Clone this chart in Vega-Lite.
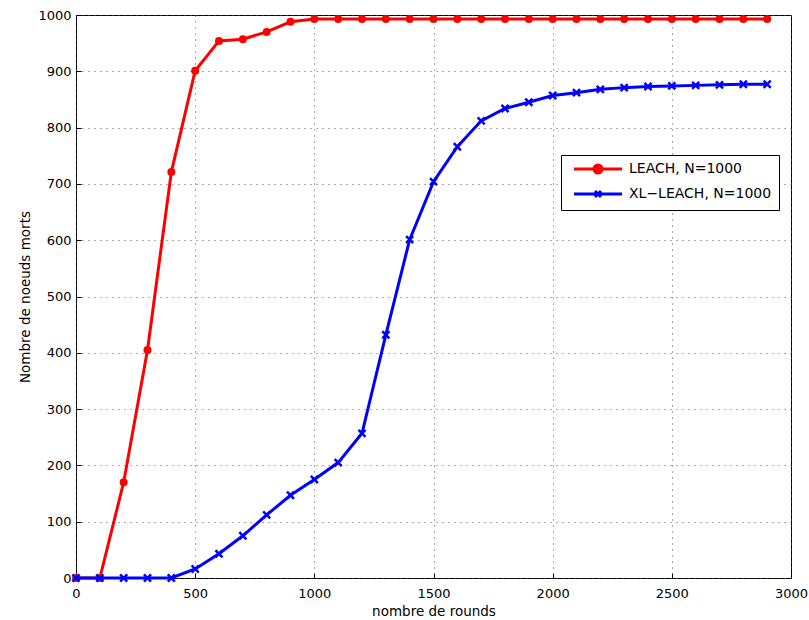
{
  "$schema": "https://vega.github.io/schema/vega-lite/v6.json",
  "width": 715,
  "height": 563,
  "autosize": {"type": "none"},
  "padding": {"left": 76, "top": 15, "right": 18, "bottom": 42},
  "background": "white",
  "config": {
    "font": "DejaVu Sans",
    "view": {"stroke": "black", "strokeWidth": 1},
    "axis": {
      "domain": false,
      "grid": true,
      "gridColor": "#555555",
      "gridDash": [1, 5],
      "gridWidth": 1,
      "ticks": true,
      "tickSize": -5,
      "tickColor": "black",
      "tickWidth": 1,
      "labelFont": "DejaVu Sans",
      "labelFontSize": 13,
      "labelColor": "black",
      "titleFont": "DejaVu Sans",
      "titleFontSize": 13.5,
      "titleFontWeight": "normal",
      "titleColor": "black"
    },
    "legend": {
      "labelFont": "DejaVu Sans",
      "labelFontSize": 14,
      "labelColor": "black"
    }
  },
  "data": {
    "values": [
      {"rounds": 0, "dead": 0, "series": "LEACH, N=1000"},
      {"rounds": 100, "dead": 0, "series": "LEACH, N=1000"},
      {"rounds": 200, "dead": 170, "series": "LEACH, N=1000"},
      {"rounds": 300, "dead": 405, "series": "LEACH, N=1000"},
      {"rounds": 400, "dead": 721, "series": "LEACH, N=1000"},
      {"rounds": 500, "dead": 901, "series": "LEACH, N=1000"},
      {"rounds": 600, "dead": 954, "series": "LEACH, N=1000"},
      {"rounds": 700, "dead": 957, "series": "LEACH, N=1000"},
      {"rounds": 800, "dead": 970, "series": "LEACH, N=1000"},
      {"rounds": 900, "dead": 988, "series": "LEACH, N=1000"},
      {"rounds": 1000, "dead": 993, "series": "LEACH, N=1000"},
      {"rounds": 1100, "dead": 993, "series": "LEACH, N=1000"},
      {"rounds": 1200, "dead": 993, "series": "LEACH, N=1000"},
      {"rounds": 1300, "dead": 993, "series": "LEACH, N=1000"},
      {"rounds": 1400, "dead": 993, "series": "LEACH, N=1000"},
      {"rounds": 1500, "dead": 993, "series": "LEACH, N=1000"},
      {"rounds": 1600, "dead": 993, "series": "LEACH, N=1000"},
      {"rounds": 1700, "dead": 993, "series": "LEACH, N=1000"},
      {"rounds": 1800, "dead": 993, "series": "LEACH, N=1000"},
      {"rounds": 1900, "dead": 993, "series": "LEACH, N=1000"},
      {"rounds": 2000, "dead": 993, "series": "LEACH, N=1000"},
      {"rounds": 2100, "dead": 993, "series": "LEACH, N=1000"},
      {"rounds": 2200, "dead": 993, "series": "LEACH, N=1000"},
      {"rounds": 2300, "dead": 993, "series": "LEACH, N=1000"},
      {"rounds": 2400, "dead": 993, "series": "LEACH, N=1000"},
      {"rounds": 2500, "dead": 993, "series": "LEACH, N=1000"},
      {"rounds": 2600, "dead": 993, "series": "LEACH, N=1000"},
      {"rounds": 2700, "dead": 993, "series": "LEACH, N=1000"},
      {"rounds": 2800, "dead": 993, "series": "LEACH, N=1000"},
      {"rounds": 2900, "dead": 993, "series": "LEACH, N=1000"},
      {"rounds": 0, "dead": 0, "series": "XL−LEACH, N=1000"},
      {"rounds": 100, "dead": 0, "series": "XL−LEACH, N=1000"},
      {"rounds": 200, "dead": 0, "series": "XL−LEACH, N=1000"},
      {"rounds": 300, "dead": 0, "series": "XL−LEACH, N=1000"},
      {"rounds": 400, "dead": 0, "series": "XL−LEACH, N=1000"},
      {"rounds": 500, "dead": 16, "series": "XL−LEACH, N=1000"},
      {"rounds": 600, "dead": 43, "series": "XL−LEACH, N=1000"},
      {"rounds": 700, "dead": 75, "series": "XL−LEACH, N=1000"},
      {"rounds": 800, "dead": 112, "series": "XL−LEACH, N=1000"},
      {"rounds": 900, "dead": 147, "series": "XL−LEACH, N=1000"},
      {"rounds": 1000, "dead": 175, "series": "XL−LEACH, N=1000"},
      {"rounds": 1100, "dead": 205, "series": "XL−LEACH, N=1000"},
      {"rounds": 1200, "dead": 257, "series": "XL−LEACH, N=1000"},
      {"rounds": 1300, "dead": 432, "series": "XL−LEACH, N=1000"},
      {"rounds": 1400, "dead": 601, "series": "XL−LEACH, N=1000"},
      {"rounds": 1500, "dead": 704, "series": "XL−LEACH, N=1000"},
      {"rounds": 1600, "dead": 766, "series": "XL−LEACH, N=1000"},
      {"rounds": 1700, "dead": 812, "series": "XL−LEACH, N=1000"},
      {"rounds": 1800, "dead": 834, "series": "XL−LEACH, N=1000"},
      {"rounds": 1900, "dead": 845, "series": "XL−LEACH, N=1000"},
      {"rounds": 2000, "dead": 857, "series": "XL−LEACH, N=1000"},
      {"rounds": 2100, "dead": 862, "series": "XL−LEACH, N=1000"},
      {"rounds": 2200, "dead": 868, "series": "XL−LEACH, N=1000"},
      {"rounds": 2300, "dead": 871, "series": "XL−LEACH, N=1000"},
      {"rounds": 2400, "dead": 873, "series": "XL−LEACH, N=1000"},
      {"rounds": 2500, "dead": 874, "series": "XL−LEACH, N=1000"},
      {"rounds": 2600, "dead": 875, "series": "XL−LEACH, N=1000"},
      {"rounds": 2700, "dead": 876, "series": "XL−LEACH, N=1000"},
      {"rounds": 2800, "dead": 877, "series": "XL−LEACH, N=1000"},
      {"rounds": 2900, "dead": 877, "series": "XL−LEACH, N=1000"}
    ]
  },
  "encoding": {
    "x": {
      "field": "rounds",
      "type": "quantitative",
      "scale": {"domain": [0, 3000], "nice": false, "zero": false},
      "axis": {"title": "nombre de rounds", "format": "d", "values": [0, 500, 1000, 1500, 2000, 2500, 3000], "labelFlush": false, "labelPadding": 14, "titlePadding": 4}
    },
    "y": {
      "field": "dead",
      "type": "quantitative",
      "scale": {"domain": [0, 1000], "nice": false},
      "axis": {"title": "Nombre de noeuds morts", "format": "d", "values": [0, 100, 200, 300, 400, 500, 600, 700, 800, 900, 1000], "labelPadding": 10, "titlePadding": 5}
    }
  },
  "layer": [
    {
      "transform": [{"filter": "datum.series == 'LEACH, N=1000'"}],
      "mark": {"type": "line", "strokeWidth": 3},
      "encoding": {
        "color": {
          "field": "series",
          "type": "nominal",
          "scale": {"domain": ["LEACH, N=1000", "XL−LEACH, N=1000"], "range": ["#ff0000", "#0000ff"]},
          "legend": {
            "title": null,
            "orient": "none",
            "legendX": 485,
            "legendY": 140,
            "fillColor": "white",
            "strokeColor": "black",
            "padding": 7,
            "rowPadding": 6,
            "symbolSize": 100,
            "symbolStrokeWidth": 3,
            "labelOffset": 47,
            "encode": {
              "symbols": {
                "update": {
                  "shape": {"signal": "datum.value == 'LEACH, N=1000' ? 'M-0.2,0H9.4M3.8,0A0.8,0.8,0,1,1,5.4,0A0.8,0.8,0,1,1,3.8,0Z' : 'M-0.2,0H9.4M4,-0.6L5.2,0.6M4,0.6L5.2,-0.6'"},
                  "stroke": {"signal": "datum.value == 'LEACH, N=1000' ? '#ff0000' : '#0000ff'"},
                  "fill": {"signal": "datum.value == 'LEACH, N=1000' ? '#ff0000' : '#0000ff'"},
                  "strokeWidth": {"value": 3},
                  "opacity": {"value": 1}
                }
              }
            }
          }
        }
      }
    },
    {
      "transform": [{"filter": "datum.series == 'LEACH, N=1000'"}],
      "mark": {"type": "point", "shape": "circle", "filled": true, "size": 64, "color": "#ff0000", "opacity": 1}
    },
    {
      "transform": [{"filter": "datum.series != 'LEACH, N=1000'"}],
      "mark": {"type": "line", "strokeWidth": 3},
      "encoding": {
        "color": {"field": "series", "type": "nominal"}
      }
    },
    {
      "transform": [{"filter": "datum.series != 'LEACH, N=1000'"}],
      "mark": {"type": "point", "shape": "M-1,-1L1,1M-1,1L1,-1", "filled": false, "size": 50, "stroke": "#0000ff", "strokeWidth": 2.5, "opacity": 1}
    }
  ]
}
